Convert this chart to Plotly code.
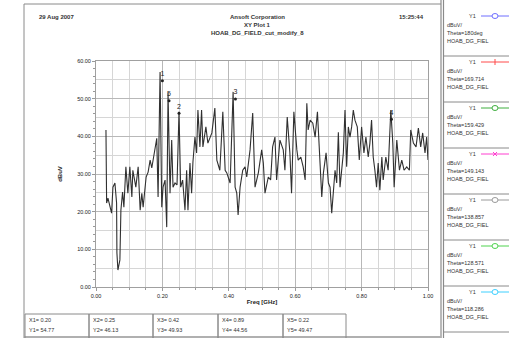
import plotly.graph_objects as go

# ---------------- data ----------------
freq_ghz = [0.030, 0.032, 0.036, 0.047, 0.051, 0.057, 0.062, 0.063, 0.066, 0.072,
            0.075, 0.080, 0.084, 0.090, 0.096, 0.102, 0.108, 0.111, 0.120, 0.127,
            0.133, 0.138, 0.142, 0.151, 0.157, 0.163, 0.168, 0.172, 0.178, 0.183,
            0.187, 0.193, 0.198, 0.202, 0.208, 0.213, 0.217, 0.223, 0.228, 0.232,
            0.238, 0.244, 0.250, 0.255, 0.261, 0.268, 0.273, 0.277, 0.283, 0.288,
            0.292, 0.298, 0.303, 0.307, 0.313, 0.318, 0.322, 0.331, 0.337, 0.349,
            0.358, 0.364, 0.373, 0.382, 0.389, 0.394, 0.404, 0.413, 0.419, 0.424,
            0.428, 0.434, 0.442, 0.449, 0.454, 0.464, 0.472, 0.479, 0.489, 0.499,
            0.504, 0.509, 0.519, 0.526, 0.532, 0.539, 0.544, 0.554, 0.564, 0.569,
            0.576, 0.584, 0.589, 0.596, 0.605, 0.609, 0.617, 0.624, 0.630, 0.635,
            0.639, 0.645, 0.653, 0.660, 0.667, 0.673, 0.680, 0.685, 0.693, 0.700,
            0.705, 0.710, 0.715, 0.720, 0.725, 0.730, 0.735, 0.740, 0.745, 0.750,
            0.755, 0.760, 0.765, 0.770, 0.775, 0.780, 0.787, 0.793, 0.800, 0.807,
            0.813, 0.820, 0.825, 0.830, 0.835, 0.840, 0.845, 0.850, 0.855, 0.861,
            0.865, 0.873, 0.880, 0.888, 0.894, 0.898, 0.906, 0.914, 0.921, 0.928,
            0.936, 0.944, 0.948, 0.956, 0.964, 0.971, 0.978, 0.984, 0.991, 0.996,
            1.000]
field_dbuv = [41.7, 22.3, 23.6, 19.6, 26.5, 27.6, 22.3, 9.0, 4.5, 7.2,
              20.4, 25.2, 21.2, 31.9, 24.9, 31.9, 23.9, 31.0, 26.5, 31.9,
              20.4, 24.9, 21.2, 29.2, 30.5, 33.7, 31.6, 33.7, 35.8, 39.5,
              23.9, 57.1, 21.2, 26.5, 28.4, 15.9, 51.5, 24.9, 39.0, 26.5,
              27.6, 27.1, 46.5, 26.5, 28.4, 20.4, 31.0, 20.4, 32.9, 24.9,
              33.2, 39.8, 35.6, 47.0, 37.2, 47.0, 37.2, 42.5, 38.2, 40.9,
              47.5, 33.7, 31.0, 46.5, 31.0, 30.3, 27.6, 51.8, 26.5, 24.9,
              19.1, 26.5, 31.0, 31.9, 29.2, 36.4, 46.2, 26.5, 30.3, 36.4,
              32.9, 24.9, 29.2, 28.4, 37.2, 39.8, 28.4, 39.0, 36.4, 31.0,
              45.1, 35.6, 24.9, 46.5, 36.4, 33.7, 34.5, 31.9, 28.4, 48.8,
              41.7, 44.3, 43.5, 39.8, 46.5, 35.6, 23.9, 30.3, 35.6, 27.6,
              26.5, 19.6, 25.7, 31.0, 27.6, 41.1, 26.5, 31.0, 35.6, 47.0,
              31.9, 42.5, 39.8, 42.5, 47.0, 44.3, 42.5, 33.7, 42.5, 35.6,
              39.8, 34.5, 38.2, 44.3, 34.5, 31.0, 26.5, 32.9, 25.7, 34.5,
              28.4, 34.5, 31.0, 47.0, 38.2, 26.5, 39.0, 31.0, 33.7, 31.0,
              31.9, 31.0, 41.7, 38.2, 37.2, 42.2, 37.2, 40.9, 35.6, 39.8,
              33.7]

marker_names = ["1", "2", "3", "4", "5"]
marker_x = [0.20, 0.25, 0.42, 0.89, 0.22]
marker_y = [54.77, 46.13, 49.93, 44.56, 49.47]

y_ticks = [0, 10, 20, 30, 40, 50, 60]
y_tick_labels = ["0.00", "10.00", "20.00", "30.00", "40.00", "50.00", "60.00"]
x_ticks = [0.0, 0.2, 0.4, 0.6, 0.8, 1.0]
x_tick_labels = ["0.00", "0.20", "0.40", "0.60", "0.80", "1.00"]

legend_thetas = ["180deg", "169.714", "159.429", "149.143", "138.857", "128.571", "118.286"]
legend_colors = ["#6f6fff", "#ff4a4a", "#3fae3f", "#ff3fd0", "#9a9a9a", "#4fd34f", "#3fd0ff"]
legend_symbols = ["o", "+", "o", "*", "v", "o", "o"]

# ---------------- layout helpers (pixel -> paper) ----------------
W, H = 509, 338
L, R, T, B = 96, 428, 61, 287


def PX(x):
    return (x - L) / (R - L)


def PY(y):
    return (B - y) / (B - T)


FONT = "Liberation Sans, Arial, sans-serif"
TXT = "#333333"

fig = go.Figure()
fig.add_trace(go.Scatter(x=freq_ghz, y=field_dbuv, mode="lines",
                         line=dict(color="#303030", width=1.1), showlegend=False,
                         hoverinfo="skip"))
# invisible trace on y2 to carry the minor tick marks every 2 dB
fig.add_trace(go.Scatter(x=[0, 1], y=[0, 60], yaxis="y2", mode="lines",
                         line=dict(width=0), opacity=0, showlegend=False,
                         hoverinfo="skip"))
# marker dots
fig.add_trace(go.Scatter(x=marker_x, y=marker_y, mode="markers+text",
                         marker=dict(size=3, color="#222222"),
                         text=marker_names, textposition="top center",
                         textfont=dict(size=7, color="#222222", family=FONT),
                         showlegend=False, hoverinfo="skip"))

fig.update_layout(
    width=W, height=H,
    margin=dict(l=L, r=W - R, t=T, b=H - B, pad=0),
    paper_bgcolor="white", plot_bgcolor="white",
    showlegend=False,
    font=dict(family=FONT, size=6, color=TXT),
    xaxis=dict(range=[0, 1], tickvals=x_ticks, ticktext=x_tick_labels,
               showgrid=True, gridcolor="#b8b8b8", gridwidth=1,
               minor=dict(dtick=0.05, showgrid=True, gridcolor="#d6d6d6",
                          ticks="outside", ticklen=2, tickcolor="#999999"),
               ticks="outside", ticklen=3, tickcolor="#999999",
               showline=True, linecolor="#a0a0a0", mirror=True,
               zeroline=False, tickfont=dict(size=5.5, color="#222222"),
               title=dict(text="<b>Freq [GHz]</b>", font=dict(size=6, color="#222222"),
                          standoff=2)),
    yaxis=dict(range=[0, 60], tickvals=y_ticks, ticktext=y_tick_labels,
               showgrid=True, gridcolor="#b8b8b8", gridwidth=1,
               minor=dict(dtick=5, showgrid=True, gridcolor="#d6d6d6"),
               ticks="outside", ticklen=3, tickcolor="#999999",
               showline=True, linecolor="#a0a0a0", mirror=True,
               zeroline=False, tickfont=dict(size=5.5, color="#222222"),
               title=dict(text="<b>dBuV</b>", font=dict(size=6, color="#222222"),
                          standoff=14)),
    yaxis2=dict(range=[0, 60], overlaying="y", side="left", dtick=2,
                showgrid=False, showticklabels=False, ticks="outside",
                ticklen=2, tickcolor="#999999", zeroline=False, showline=False),
)

shapes = []
lc = "#8a8a8a"


def hline(x0, x1, y, color=lc, w=1):
    shapes.append(dict(type="line", xref="paper", yref="paper", x0=PX(x0), x1=PX(x1),
                       y0=PY(y), y1=PY(y), line=dict(color=color, width=w)))


def vline(x, y0, y1, color=lc, w=1):
    shapes.append(dict(type="line", xref="paper", yref="paper", x0=PX(x), x1=PX(x),
                       y0=PY(y0), y1=PY(y1), line=dict(color=color, width=w)))


# outer frame
hline(24, 441, 4)
vline(24, 4, 338)
vline(441, 0, 338, w=1.2)
vline(443.5, 0, 338, w=1.2)
hline(24, 441, 337, color="#b0b0b0", w=2)

# marker table boxes
box_x = [25, 89, 153, 218, 283, 346]
for i in range(5):
    shapes.append(dict(type="rect", xref="paper", yref="paper",
                       x0=PX(box_x[i]), x1=PX(box_x[i + 1]), y0=PY(340), y1=PY(314),
                       line=dict(color="#8a8a8a", width=1)))

annotations = []


def text(x, y, s, size=6, anchor="left", color=TXT, bold=False):
    annotations.append(dict(xref="paper", yref="paper", x=PX(x), y=PY(y),
                            text=("<b>%s</b>" % s) if bold else s,
                            showarrow=False, xanchor=anchor, yanchor="middle",
                            font=dict(size=size, color=color, family=FONT)))


# header
text(37, 17, "29 Aug 2007", size=6, bold=True)
text(257, 17, "Ansoft Corporation", size=6, anchor="center", bold=True)
text(257, 25, "XY Plot 1", size=6, anchor="center", bold=True)
text(257, 33, "HOAB_DG_FIELD_cut_modify_8", size=6, anchor="center", bold=True)
text(426, 17, "15:25:44", size=6, anchor="right", bold=True)

# marker table texts
for i in range(5):
    text(box_x[i] + 2, 320, "X%d= %.2f" % (i + 1, marker_x[i]), size=5.5)
    text(box_x[i] + 2, 330, "Y%d= %.2f" % (i + 1, marker_y[i]), size=5.5)

# legend panels on the right
seps = [56, 102, 148, 194, 240, 286, 332]
for i in range(7):
    top = seps[i] - 46
    hline(443.5, 509, seps[i])
    c = legend_colors[i]
    yy = top + 6
    text(478, yy, "Y1", size=5.5, anchor="right")
    hline(481, 509, yy, color=c, w=1)
    mx, sym = 495, legend_symbols[i]
    if sym in ("o", "v"):
        shapes.append(dict(type="circle", xref="paper", yref="paper",
                           x0=PX(mx - 3), x1=PX(mx + 3), y0=PY(yy - 2.5), y1=PY(yy + 2.5),
                           line=dict(color=c, width=1), fillcolor="white", layer="above"))
    elif sym == "+":
        vline(mx, yy - 3, yy + 3, color=c)
    else:
        shapes.append(dict(type="line", xref="paper", yref="paper", x0=PX(mx - 2), x1=PX(mx + 2),
                           y0=PY(yy - 2), y1=PY(yy + 2), line=dict(color=c, width=1)))
        shapes.append(dict(type="line", xref="paper", yref="paper", x0=PX(mx - 2), x1=PX(mx + 2),
                           y0=PY(yy + 2), y1=PY(yy - 2), line=dict(color=c, width=1)))
    text(445, top + 15, "dBuV/", size=5.5)
    text(445, top + 23, "Theta=" + legend_thetas[i], size=5.5)
    text(445, top + 31, "HOAB_DG_FIEL", size=5.5)

fig.update_layout(shapes=shapes, annotations=annotations)
fig.write_html("out.html",
               config={"displayModeBar": False},
               post_script="document.body.style.margin='0px';"
                           "document.body.style.overflow='hidden';")
